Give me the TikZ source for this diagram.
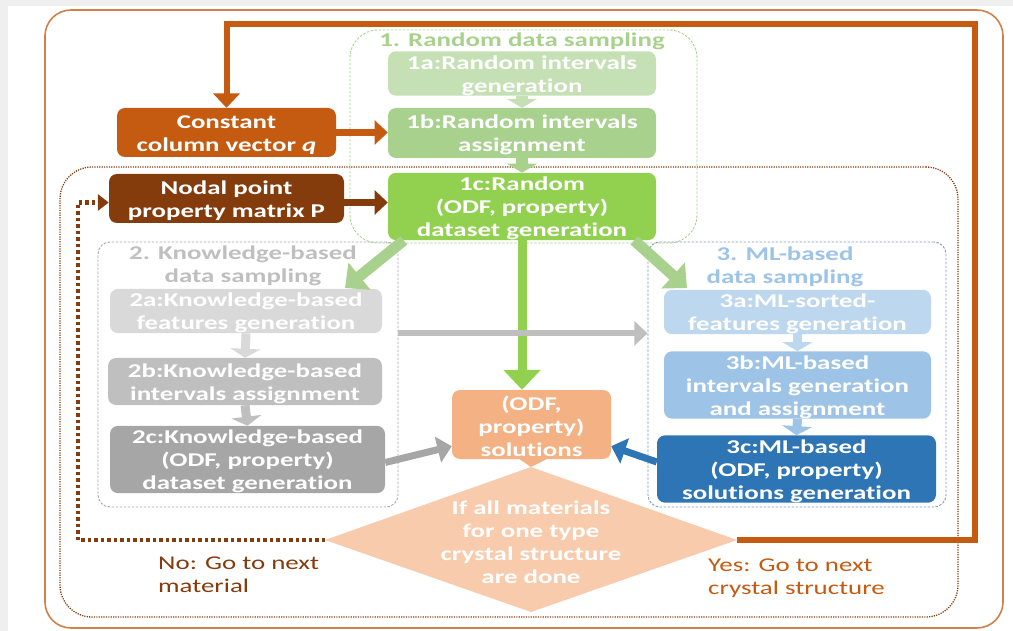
\documentclass[tikz,border=0pt]{standalone}
\usepackage{fontspec}
\setmainfont{Carlito}[FakeStretch=1.38, Ligatures=NoCommon]
\usetikzlibrary{arrows.meta}

\definecolor{cOrange}{HTML}{C55A11}
\definecolor{cBrown}{HTML}{843C0C}
\definecolor{cOutline}{HTML}{D0804A}
\definecolor{cG1}{HTML}{C5E0B4}
\definecolor{cG2}{HTML}{A9D18E}
\definecolor{cG3}{HTML}{92D050}
\definecolor{cK1}{HTML}{D9D9D9}
\definecolor{cK2}{HTML}{BFBFBF}
\definecolor{cK3}{HTML}{A6A6A6}
\definecolor{cB1}{HTML}{BDD7EE}
\definecolor{cB2}{HTML}{9DC3E6}
\definecolor{cB3}{HTML}{2E75B6}
\definecolor{cSol}{HTML}{F4B183}
\definecolor{cDia}{HTML}{F8CBAD}
\definecolor{cPage}{HTML}{EFEFEF}

\newcommand\dgbold{\fontsize{19.5}{23}\selectfont\bfseries}
\newcommand\dgreg{\fontsize{19.5}{23}\selectfont}
% strut that pushes the first line of a box label slightly down
\newcommand\dgtop{\rule{0pt}{18pt}}

\begin{document}
\begin{tikzpicture}[x=1pt,y=-1pt,
  box/.style={rounded corners=8pt, inner sep=0pt, text=white, align=center, font=\dgbold},
  group/.style={rounded corners=#1, inner sep=0pt, line width=0.9pt, dash pattern=on 2.5pt off 1.5pt},
  title/.style={inner sep=0pt, align=center, font=\dgbold},
  flow/.style n args={3}{draw=#1, line width=#2, -{Triangle[width=#3, length=0.55*#3]}},
  stub/.style={line width=12pt, -{Triangle[width=30pt, length=9pt]}},
]
\useasboundingbox (0,0) rectangle (1013,631);

% page edge
\fill[cPage] (0,0) rectangle (1013,6);
\fill[cPage] (0,0) rectangle (8,631);

% outer frame and the per-material loop region
\node[draw=cOutline, line width=1.6pt, rounded corners=26pt, minimum width=958pt, minimum height=618pt, inner sep=0pt] (outer) at (524,319) {};
\node[draw=cBrown, line width=1.3pt, dash pattern=on 1.2pt off 1.2pt, rounded corners=32pt, minimum width=898pt, minimum height=450pt, inner sep=0pt] (loop) at (509,392) {};

% sampling groups
\node[group=28pt, draw=cG2, minimum width=347pt, minimum height=213pt] (g1) at (523.5,136.5) {};
\node[group=12pt, draw=gray!70, minimum width=300pt, minimum height=265pt] (g2) at (248,374.5) {};
\node[group=12pt, draw=cB2!80!black, minimum width=298pt, minimum height=265pt] (g3) at (797,374.5) {};

\node[title, text=cG2] (t1) at (522,41) {1. Random data sampling};
\node[title, text=cK2] (t2) at (243,265.5) {2. Knowledge-based\\data sampling};
\node[title, text=cB2] (t3) at (785,267) {3. ML-based\\data sampling};

% inputs
\node[box, fill=cOrange, minimum width=219pt, minimum height=49pt] (const) at (226.5,132.5) {\dgtop Constant\\column vector \textit{q}};
\node[box, fill=cBrown, minimum width=235pt, minimum height=49pt] (nodal) at (226.5,198.5) {\dgtop Nodal point\\property matrix P};

% random sampling
\node[box, fill=cG1, minimum width=268pt, minimum height=43pt] (b1a) at (522,73.5) {\dgtop 1a:Random intervals\\generation};
\node[box, fill=cG2, minimum width=268pt, minimum height=50pt] (b1b) at (522,133) {\dgtop 1b:Random intervals\\assignment};
\node[box, fill=cG3, minimum width=268pt, minimum height=61pt] (b1c) at (522,206.5) {\dgtop 1c:Random\\(ODF, property)\\dataset generation};

% knowledge-based sampling
\node[box, fill=cK1, minimum width=272pt, minimum height=42pt] (b2a) at (246,311) {\dgtop 2a:Knowledge-based\\features generation};
\node[box, fill=cK2, minimum width=274pt, minimum height=47pt] (b2b) at (245,381.5) {\dgtop 2b:Knowledge-based\\intervals assignment};
\node[box, fill=cK3, minimum width=275pt, minimum height=65pt] (b2c) at (247.5,459.5) {\dgtop 2c:Knowledge-based\\(ODF, property)\\dataset generation};

% ML-based sampling
\node[box, fill=cB1, minimum width=267pt, minimum height=42pt] (b3a) at (797.5,312) {\dgtop 3a:ML-sorted-\\features generation};
\node[box, fill=cB2, minimum width=267pt, minimum height=66pt] (b3b) at (797.5,385) {\dgtop 3b:ML-based\\intervals generation\\and assignment};
\node[box, fill=cB3, minimum width=279pt, minimum height=62pt] (b3c) at (796.5,469) {\dgtop 3c:ML-based\\(ODF, property)\\solutions generation};

% solutions and decision
\node[box, fill=cSol, minimum width=159pt, minimum height=69pt] (sol) at (531.5,424.5) {\dgtop (ODF,\\property)\\solutions};
\coordinate (dL) at (325,540);
\coordinate (dR) at (737,540);
\coordinate (dT) at (531,467);
\coordinate (dB) at (531,612);
\fill[cDia] (dL) -- (dT) -- (dR) -- (dB) -- cycle;
\node[title, text=white] (dtext) at (531,542) {If all materials\\for one type\\crystal structure\\are done};

% short links inside the groups
\draw[stub, draw=cG1] (b1a.south) -- (b1b.north);
\draw[stub, draw=cG2] (b1b.south) -- (b1c.north);
\draw[stub, draw=cK1, line width=9pt] (b2a.south) -- (b2b.north);
\draw[stub, draw=cK2, line width=9pt] (b2b.south) -- (b2c.north);
\draw[stub, draw=cB1, line width=9pt] (b3a.south) -- (b3b.north);
\draw[stub, draw=cB2, line width=9pt] (b3b.south) -- (b3c.north);
\draw[stub, draw=cSol, line width=14pt] (sol.south) -- (dT);

% main flow
\draw[flow={cOrange}{7pt}{24pt}] (const.east) -- (const.east -| b1b.west);
\draw[flow={cBrown}{7pt}{24pt}] ([yshift=-4pt]nodal.east) -- ([yshift=-4pt]nodal.east -| b1c.west);
\draw[flow={cG3}{9pt}{36pt}] (b1c.south) -- (b1c.south |- sol.north);
\coordinate (to2) at (345,288);
\coordinate (to3) at (687,288);
\draw[flow={cG2}{11pt}{34pt}] ([xshift=16pt]b1c.south west) -- (to2);
\draw[flow={cG2}{11pt}{34pt}] ([xshift=-22pt]b1c.south east) -- (to3);
\draw[flow={cK2}{6pt}{24pt}] (g2.east |- b2a.south) -- (g3.west |- b2a.south);
\draw[flow={cK3}{7pt}{26pt}] ([yshift=-3pt]b2c.east) -- ([yshift=13pt]sol.south west);
\draw[flow={cB3}{7pt}{26pt}] ([yshift=7pt]b3c.west) -- ([yshift=13pt]sol.south east);

% loop back to the next crystal structure
\coordinate (yesCorner) at (975,24);
\draw[flow={cOrange}{6pt}{26pt}] (dR) -| (yesCorner) -| (const.north);

% loop back to the next material
\coordinate (noCorner) at (78,540);
\draw[cBrown, line width=4.5pt, dash pattern=on 3.5pt off 3pt, -{Triangle[width=16pt, length=11pt]}] (dL) -- (noCorner) |- ([yshift=-4pt]nodal.west);

% branch labels
\node[inner sep=0pt, align=left, anchor=north west, text=cBrown, font=\dgreg] (nolab) at (158,557) {No: Go to next\\material};
\node[inner sep=0pt, align=left, anchor=north west, text=cOrange, font=\dgreg] (yeslab) at (708,559) {Yes: Go to next\\crystal structure};
\end{tikzpicture}
\end{document}
